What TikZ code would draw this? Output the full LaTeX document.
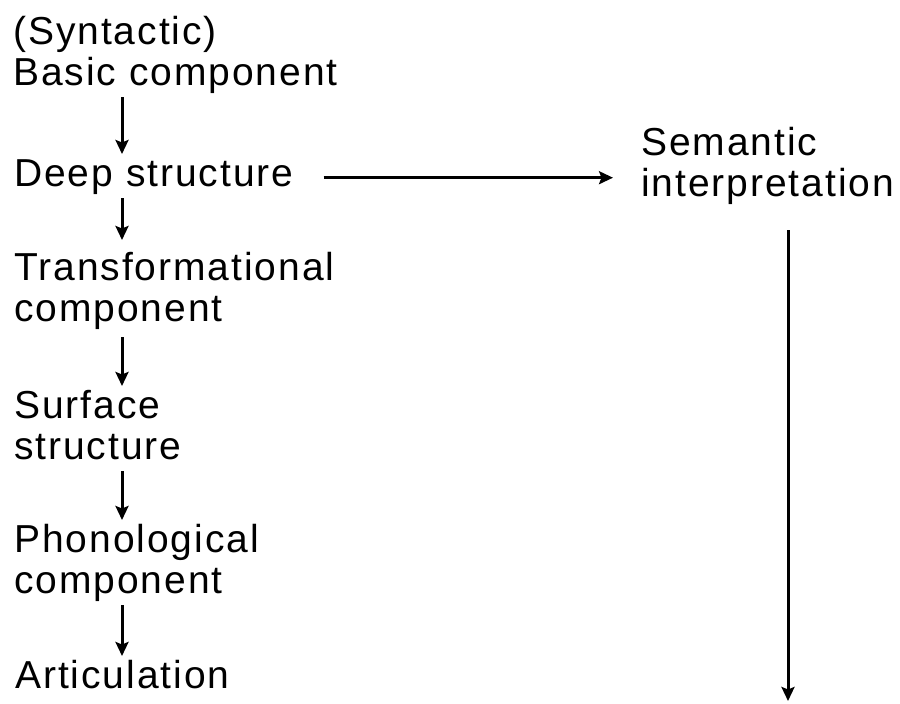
\documentclass[tikz,border=0pt]{standalone}
\usepackage{fontspec}
\setmainfont[LetterSpace=5]{Liberation Sans}
\usetikzlibrary{arrows.meta}
\newcommand{\mystrut}{\rule[-12pt]{0pt}{41pt}}
\begin{document}
\begin{tikzpicture}[x=1pt,y=-1pt,
  lbl/.style={anchor=north west,inner sep=0pt,align=left,
    font=\fontsize{39}{41}\selectfont},
  arr/.style={line width=3pt,-{Stealth[length=14pt,width=13pt,inset=2.5pt]}},
]
\useasboundingbox (0,0) rectangle (900,704);
\coordinate (colx) at (122,0);
\node[lbl] (syn) at (13,15) {(Syntactic)\mystrut\\Basic component\mystrut};
\node[lbl] (deep) at (14,157) {Deep structure\mystrut};
\node[lbl] (trans) at (14,251) {Transformational\mystrut\\component\mystrut};
\node[lbl] (surf) at (14,389) {Surface\mystrut\\structure\mystrut};
\node[lbl] (phon) at (14,523) {Phonological\mystrut\\component\mystrut};
\node[lbl] (artic) at (15,659) {Articulation\mystrut};
\node[lbl] (sem) at (641,126) {Semantic\mystrut\\interpretation\mystrut};
\coordinate (semend) at (788,701);

\draw[arr,shorten >=3pt] (syn.south -| colx) -- (deep.north -| colx);
\draw[arr,shorten >=11pt] (deep.south -| colx) -- (trans.north -| colx);
\draw[arr,shorten <=4pt,shorten >=3pt] (trans.south -| colx) -- (surf.north -| colx);
\draw[arr,shorten >=3pt] (surf.south -| colx) -- (phon.north -| colx);
\draw[arr,shorten >=3pt] (phon.south -| colx) -- (artic.north -| colx);
\draw[arr,line width=2.6pt,shorten <=30pt,shorten >=28pt] (deep.east) -- (deep.east -| sem.west);
\draw[arr,shorten <=22pt] (sem.south -| semend) -- (semend);
\end{tikzpicture}
\end{document}
